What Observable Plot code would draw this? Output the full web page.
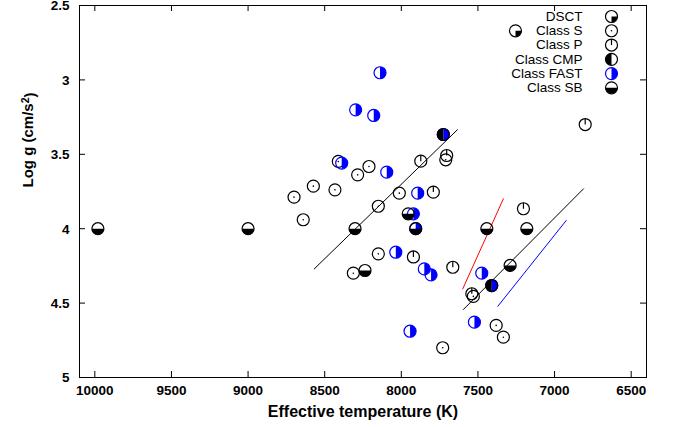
<!DOCTYPE html>
<html><head><meta charset="utf-8">
<script src="https://cdn.jsdelivr.net/npm/d3@7"></script>
<script src="https://cdn.jsdelivr.net/npm/@observablehq/plot@0.6"></script>
<style>body{margin:0;background:#fff} svg{display:block} #chart{width:680px;height:427px}</style>
</head><body><div id="chart"></div>
<script>
// ---- data ----
const xTicks = [10000, 9500, 9000, 8500, 8000, 7500, 7000, 6500];
const yTicks = [2.5, 3, 3.5, 4, 4.5, 5];
const classNames = ["DSCT", "Class S", "Class P", "Class CMP", "Class FAST", "Class SB"];

// [Teff (K), log g]
const dsct = [[7255, 2.67]];
const classS = [
  [8411, 3.548], [8211, 3.582], [8285, 3.638], [7710, 3.537], [8574, 3.714],
  [8433, 3.739], [8700, 3.788], [8013, 3.761], [8640, 3.94], [8150, 3.849],
  [8150, 4.169], [8313, 4.299], [7730, 4.80], [7530, 4.455], [7381, 4.65], [7334, 4.729]
];
const classP = [
  [6800, 3.30], [7873, 3.546], [7704, 3.508], [7791, 3.754], [7921, 4.19],
  [7664, 4.259], [7203, 3.866], [7540, 4.437]
];
const classCMP = [[7726, 3.367], [7410, 4.382]];
const classFAST = [
  [8139, 2.952], [8298, 3.201], [8180, 3.239], [7726, 3.367], [8389, 3.559],
  [8095, 3.62], [7893, 3.761], [7921, 3.90], [7906, 4.0], [8036, 4.158],
  [7850, 4.27], [7806, 4.31], [7943, 4.689], [7475, 4.299], [7410, 4.382], [7523, 4.628]
];
const classSB = [
  [9980, 4.0], [9000, 4.0], [8302, 4.0], [7955, 3.90], [7906, 4.0],
  [8237, 4.281], [7442, 4.0], [7181, 4.0], [7290, 4.247]
];
// fitted lines: endpoints
const fitBlack1 = [[8568, 4.27], [7634, 3.335]];
const fitBlack2 = [[7595, 4.543], [6811, 3.732]];
const fitRed = [[7599, 4.404], [7334, 3.799]];
const fitBlue = [[7370, 4.521], [6924, 3.945]];

// ---- layout / style ----
const W = 680, H = 427, ML = 79, MR = 34, MT = 5, MB = 50;
const FW = W - ML - MR, FH = H - MT - MB;
const R = 6, SW = 1.2;
const BLACK = "#000", BLUE = "#0000ff", RED = "#ff0000";
const FONT = "Liberation Sans, Arial, Helvetica, sans-serif";

const rad = s => Math.sqrt(s / Math.PI);
const halfLeft = {draw(c, s) { const r = rad(s); c.moveTo(0, -r); c.arc(0, 0, r, -Math.PI / 2, Math.PI / 2, true); c.closePath(); }};
const halfRight = {draw(c, s) { const r = rad(s); c.moveTo(0, -r); c.arc(0, 0, r, -Math.PI / 2, Math.PI / 2, false); c.closePath(); }};
const halfBottom = {draw(c, s) { const r = rad(s); c.moveTo(r, 0); c.arc(0, 0, r, 0, Math.PI, false); c.closePath(); }};
const quarterBR = {draw(c, s) { const r = rad(s); c.moveTo(0, 0); c.lineTo(r, 0); c.arc(0, 0, r, 0, Math.PI / 2, false); c.closePath(); }};
const tickUp = {draw(c, s) { const r = rad(s); c.moveTo(0, -r); c.lineTo(0, 0); }};

function outline(data, pos, color) {
  return Plot.dot(data, {...pos, r: R, fill: "none", stroke: color, strokeWidth: SW});
}
function markerMarks(kind, data, pos) {
  switch (kind) {
    case "DSCT": return [
      Plot.dot(data, {...pos, r: R, symbol: quarterBR, fill: BLACK, stroke: "none"}),
      outline(data, pos, BLACK)];
    case "Class S": return [
      outline(data, pos, BLACK),
      Plot.dot(data, {...pos, r: 0.8, fill: BLACK, stroke: "none"})];
    case "Class P": return [
      Plot.dot(data, {...pos, r: R, symbol: tickUp, fill: "none", stroke: BLACK, strokeWidth: SW}),
      outline(data, pos, BLACK)];
    case "Class CMP": return [
      Plot.dot(data, {...pos, r: R, symbol: halfLeft, fill: BLACK, stroke: "none"}),
      outline(data, pos, BLACK)];
    case "Class FAST": return [
      Plot.dot(data, {...pos, r: R, symbol: halfRight, fill: BLUE, stroke: "none"}),
      outline(data, pos, BLUE)];
    case "Class SB": return [
      Plot.dot(data, {...pos, r: R, symbol: halfBottom, fill: BLACK, stroke: "none"}),
      outline(data, pos, BLACK)];
  }
}
const xy = {x: d => d[0], y: d => d[1]};
const series = [["DSCT", dsct], ["Class S", classS], ["Class P", classP],
  ["Class FAST", classFAST], ["Class CMP", classCMP], ["Class SB", classSB]];

const legendMarks = classNames.flatMap((name, i) => {
  const dy = 11 + i * 14.27;
  return [
    Plot.text([name], {text: d => d, frameAnchor: "top-right", dx: -64, dy, textAnchor: "end", lineAnchor: "middle", fontSize: 13.5, fill: BLACK}),
    ...markerMarks(name, [0], {frameAnchor: "top-right", dx: -35, dy})
  ];
});

const chart = Plot.plot({
  width: W, height: H,
  marginLeft: ML, marginRight: MR, marginTop: MT, marginBottom: MB,
  style: {fontFamily: FONT, background: "#fff", color: "#000"},
  x: {domain: [10100, 6400]},
  y: {domain: [2.5, 5], reverse: true},
  marks: [
    Plot.tickX(xTicks, {x: d => d, insetTop: FH - 6, stroke: BLACK}),
    Plot.tickX(xTicks, {x: d => d, insetBottom: FH - 6, stroke: BLACK}),
    Plot.tickY(yTicks, {y: d => d, insetRight: FW - 6, stroke: BLACK}),
    Plot.tickY(yTicks, {y: d => d, insetLeft: FW - 6, stroke: BLACK}),
    Plot.axisX(xTicks, {tickSize: 0, tickPadding: 8, fontSize: 13.5, fontWeight: "bold", tickFormat: d => String(d), label: null}),
    Plot.axisY(yTicks, {tickSize: 0, tickPadding: 10, fontSize: 13.5, fontWeight: "bold", tickFormat: d => String(d), label: null, dy: 0.5}),
    Plot.text(["Effective temperature (K)"], {text: d => d, frameAnchor: "bottom", dy: 34, lineAnchor: "middle", fontSize: 16, fontWeight: "bold"}),
    Plot.text(["Log g (cm/s2)"], {text: d => d, frameAnchor: "left", dx: -51, dy: -4, rotate: -90, lineAnchor: "middle", fontSize: 15, fontWeight: "bold", className: "ylabel"}),
    Plot.line(fitBlack1, {...xy, stroke: BLACK, strokeWidth: 1}),
    Plot.line(fitBlack2, {...xy, stroke: BLACK, strokeWidth: 1}),
    Plot.line(fitRed, {...xy, stroke: RED, strokeWidth: 1}),
    Plot.line(fitBlue, {...xy, stroke: BLUE, strokeWidth: 1}),
    ...series.flatMap(([name, data]) => markerMarks(name, data, xy)),
    Plot.frame({stroke: BLACK, strokeWidth: 1}),
    ...legendMarks
  ]
});
// superscript "2" in the y-axis label
d3.select(chart).selectAll("text").each(function () {
  if (this.textContent === "Log g (cm/s2)") {
    const t = d3.select(this);
    t.text("Log g (cm/s");
    t.append("tspan").attr("dy", "-0.45em").attr("font-size", "0.7em").text("2");
    t.append("tspan").attr("dy", "0.45em").text(")");
  }
});
document.getElementById("chart").append(chart);
</script>
</body></html>
